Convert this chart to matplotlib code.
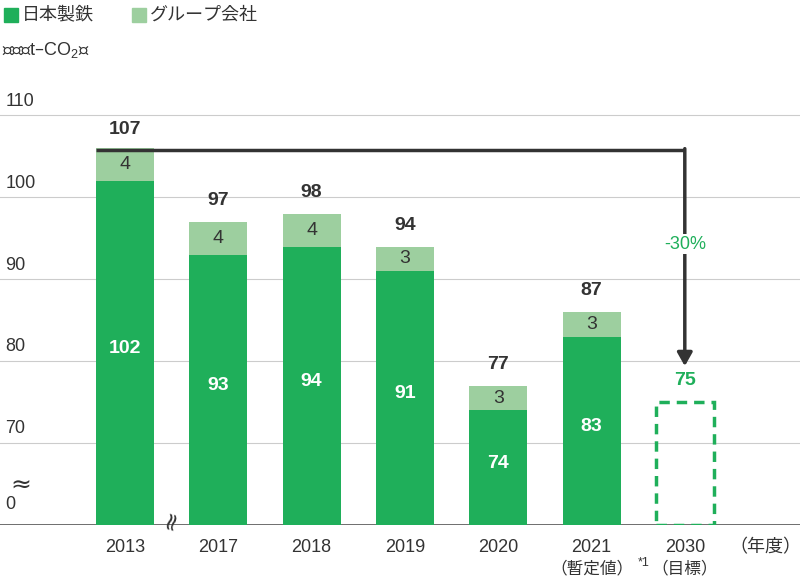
import matplotlib
matplotlib.use("Agg")
import matplotlib.pyplot as plt
from matplotlib.patches import Rectangle

plt.rcParams["font.family"] = ["Liberation Sans", "Noto Sans CJK JP"]

years = ["2013", "2017", "2018", "2019", "2020", "2021", "2030"]
sub_labels = ["", "", "", "", "", "（暫定値）", "（目標）"]
nippon = [102, 93, 94, 91, 74, 83]
group = [4, 4, 4, 3, 3, 3]
totals = [107, 97, 98, 94, 77, 87]
target = 75
yticks = [70, 80, 90, 100, 110]

DG = "#1faf5a"
LG = "#9dcf9f"
TXT = "#333333"
BASE = 60

W, H = 800, 578
fig = plt.figure(figsize=(W/100, H/100), dpi=100)
ax = fig.add_axes([0, (H-525)/H, 1, 525/H])
ax.set_xlim(-125/93.3, (W-125)/93.3)
ax.set_ylim(BASE, 124.1)
ax.axis("off")

for t in yticks:
    ax.axhline(t, color="#cccccc", lw=0.8, zorder=0)
    ax.text(-1.28, t+0.7, str(t), fontsize=13, color=TXT, ha="left", va="bottom")
ax.text(-1.28, 61.5, "0", fontsize=13, color=TXT, ha="left", va="bottom")
ax.text(-1.12, 64.8, "≈", fontsize=18, color=TXT, ha="center", va="center",
        family="DejaVu Sans")
ax.axhline(BASE, color="#555555", lw=1.2, zorder=1)

bw = 58/93.3
for i in range(len(nippon)):
    ax.bar(i, nippon[i]-BASE, bottom=BASE, width=bw, color=DG, zorder=2)
    ax.bar(i, group[i], bottom=nippon[i], width=bw, color=LG, zorder=2)
    ax.text(i, (nippon[i]+61)/2, str(nippon[i]), color="white", fontsize=14,
            fontweight="bold", ha="center", va="center", zorder=3)
    ax.text(i, nippon[i]+group[i]/2, str(group[i]), color=TXT, fontsize=14,
            ha="center", va="center", zorder=3)
    if i > 0:
        ax.text(i, nippon[i]+group[i]+2.6, str(totals[i]), color=TXT, fontsize=14,
                fontweight="bold", ha="center", va="center", zorder=3)
ax.text(0, 108.3, str(totals[0]), color=TXT, fontsize=14, fontweight="bold",
        ha="center", va="center")

ax.add_patch(Rectangle((6-bw/2, BASE), bw, target-BASE, fill=False, ec=DG,
                       lw=2.5, ls=(0, (3, 2)), zorder=2))
ax.text(6, target+2.6, str(target), color=DG, fontsize=14, fontweight="bold",
        ha="center", va="center")

ax.plot([0-bw/2, 6], [105.8, 105.8], color="#333333", lw=2.5, zorder=4, solid_capstyle="butt")
ax.annotate("", xy=(6, 79.4), xytext=(6, 105.95),
            arrowprops=dict(arrowstyle="-|>,head_width=0.45,head_length=0.8",
                            color="#333333", lw=2.5, shrinkA=0, shrinkB=0), zorder=4)
ax.text(6, 94.3, "-30%", color=DG, fontsize=13, ha="center", va="center",
        bbox=dict(fc="white", ec="none", pad=1), zorder=5)

for i, y in enumerate(years):
    fig.text((125+93.3*i)/W, 1-548/H, y, fontsize=13, color=TXT, ha="center", va="center")
    if sub_labels[i]:
        fig.text((125+93.3*i)/W, 1-568/H, sub_labels[i], fontsize=12, color=TXT,
                 ha="center", va="center")
fig.text((125+93.3*5+46)/W, 1-563/H, "*1", fontsize=9, color=TXT, ha="left", va="center")
fig.text(765/W, 1-548/H, "（年度）", fontsize=13, color=TXT, ha="center", va="center")
fig.text(172/W, 1-520/H, "≈", fontsize=18, color=TXT, ha="center", va="center",
         rotation=75, family="DejaVu Sans")

fig.patches.append(Rectangle((4/W, 1-22/H), 14/W, 14/H, transform=fig.transFigure, color=DG))
fig.text(22/W, 1-15/H, "日本製鉄", fontsize=13, color=TXT, va="center")
fig.patches.append(Rectangle((132/W, 1-22/H), 14/W, 14/H, transform=fig.transFigure, color=LG))
fig.text(150/W, 1-15/H, "グループ会社", fontsize=13, color=TXT, va="center")
fig.text(2/W, 1-50/H, "（百万t–CO$_\\mathregular{2}$）", fontsize=13, color=TXT, va="center")

fig.savefig("out.png", dpi=100)
